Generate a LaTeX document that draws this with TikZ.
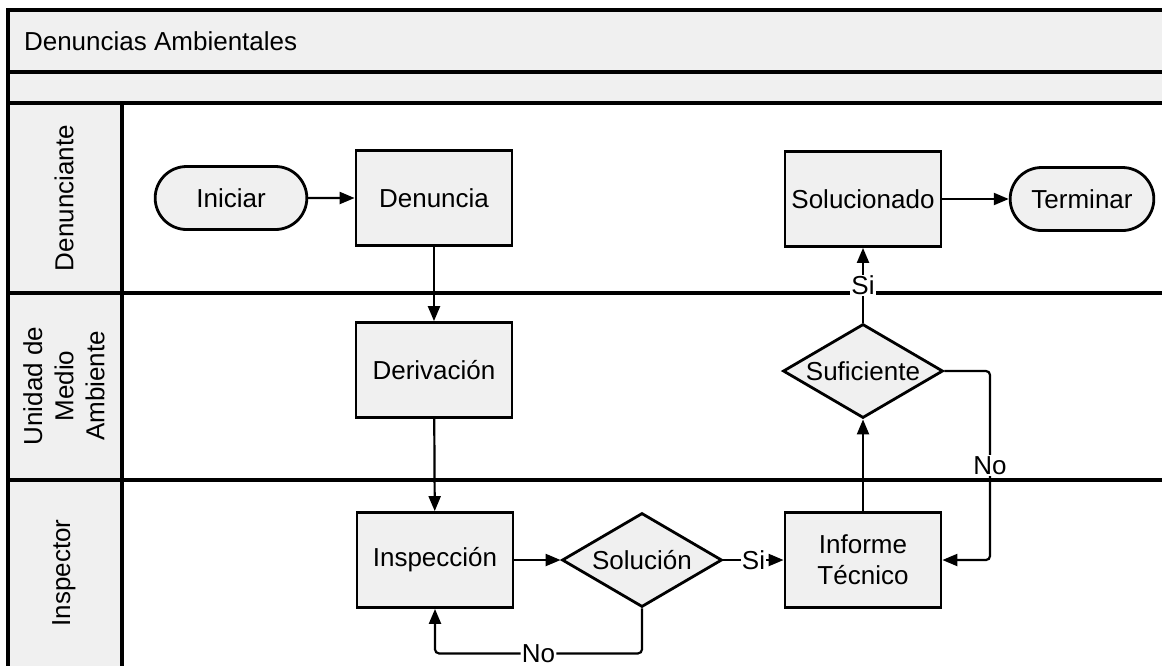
\documentclass[tikz,border=0pt]{standalone}
\usepackage{fontspec}
\setmainfont{Liberation Sans}
\usepackage{tikz}
\usetikzlibrary{shapes.geometric,shapes.misc,arrows.meta}
\definecolor{lanegray}{RGB}{240,240,240}

\begin{document}
\begin{tikzpicture}[x=0.5pt,y=-0.5pt,
  font=\fontsize{13}{15.6}\selectfont,
  frame/.style={line width=1.6pt},
  proc/.style={draw,line width=1.4pt,fill=lanegray,minimum width=78pt,minimum height=47.5pt,inner sep=2pt},
  term/.style={rounded rectangle,draw,line width=1.4pt,fill=lanegray,minimum height=31.5pt},
  dec/.style={diamond,draw,line width=1.4pt,fill=lanegray,aspect=1.7,inner sep=0pt,minimum width=80pt,minimum height=47pt},
  flow/.style={line width=1.1pt,-{Triangle[length=7.5pt,width=6pt]}},
  lbl/.style={fill=white,inner sep=0.6pt}]
\useasboundingbox (0,0) rectangle (1162,666);

% pool and lanes
\fill[white] (0,0) rectangle (1162,666);
\fill[lanegray] (8,10) rectangle (1162,103);
\fill[lanegray] (8,103) rectangle (122,666);
\draw[frame] (1162,10) -- (8,10) -- (8,666);
\draw[frame] (8,72) -- (1162,72);
\draw[frame] (8,103) -- (1162,103);
\draw[frame] (8,293) -- (1162,293);
\draw[frame] (8,480) -- (1162,480);
\draw[frame] (122,103) -- (122,666);
\node[anchor=west] (title) at (17,41) {Denuncias Ambientales};
\node[rotate=90] (lane1) at (64,198) {Denunciante};
\node[rotate=90,align=center] (lane2) at (64,386) {Unidad de\\Medio\\Ambiente};
\node[rotate=90] (lane3) at (64,573) {Inspector};

% steps
\node[term,minimum width=82.5pt] (ini) at (231,198) {Iniciar};
\node[proc] (den) at (434,198) {Denuncia};
\node[proc] (sol) at (863,199) {Solucionado};
\node[term,minimum width=78.5pt] (fin) at (1082,199) {Terminar};
\node[proc] (der) at (434,370) {Derivación};
\node[dec] (suf) at (863,371) {Suficiente};
\node[proc] (insp) at (435,560) {Inspección};
\node[dec] (solu) at (642,560) {Solución};
\node[proc,align=center] (inf) at (863,560) {Informe\\Técnico};

% flows
\draw[flow] (ini) -- (den);
\draw[flow] (den) -- (der);
\draw[flow] (der) -- (insp);
\draw[flow] (insp) -- (solu);
\draw[flow] (solu) -- node[lbl] {Si} (inf);
\draw[flow,rounded corners=2pt] (solu.south) -- ++(0,45) -| node[lbl,pos=0.25] {No} (insp.south);
\draw[flow] (inf) -- (suf);
\draw[flow] (suf.north) -- node[lbl,pos=0.5] {Si} (sol.south);
\draw[flow,rounded corners=2pt] (suf.east) -- (990,371) -- node[lbl] {No} (990,560) -- (inf.east);
\draw[flow] (sol) -- (fin);

\end{tikzpicture}
\end{document}
